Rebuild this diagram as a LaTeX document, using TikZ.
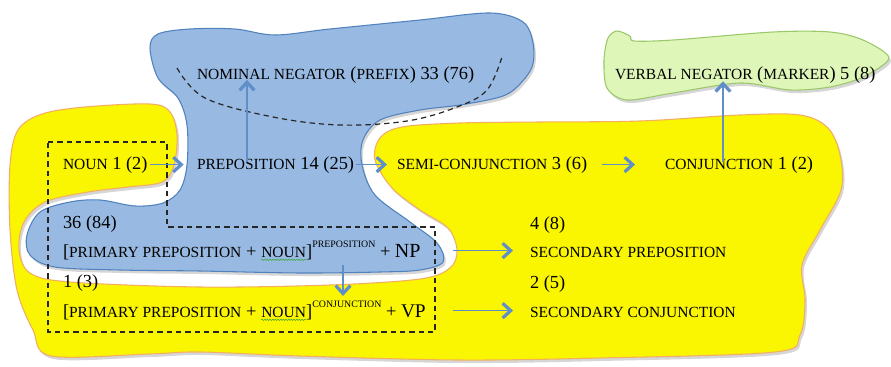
\documentclass[tikz,border=0pt]{standalone}
\usepackage{fontspec}
\setmainfont{Liberation Serif}
\usetikzlibrary{arrows.meta,decorations.pathmorphing,calc}
\definecolor{bluefill}{RGB}{152,186,226}
\definecolor{bluedraw}{RGB}{80,130,190}
\definecolor{yelfill}{RGB}{250,245,0}
\definecolor{yeldraw}{RGB}{242,175,100}
\definecolor{grnfill}{RGB}{222,246,184}
\definecolor{grndraw}{RGB}{155,200,105}
\definecolor{arrblue}{RGB}{95,142,200}
\definecolor{wavegreen}{RGB}{60,170,60}
\newcommand\sm[1]{{\fontsize{11.6}{12}\selectfont #1}}
\newcommand\supr[1]{\raisebox{0.5em}{\fontsize{7.4}{8}\selectfont #1}}
\newcommand\wv[1]{\tikz[baseline=(w.base)]{\node[inner sep=0pt,outer sep=0pt,anchor=base](w){#1};\draw[wavegreen,line width=0.4pt,decorate,decoration={snake,amplitude=0.5pt,segment length=2pt}]([yshift=-2pt]w.south west)--([yshift=-2pt]w.south east);}}
\tikzset{
  blueshape/.style={fill=bluefill,draw=bluedraw,line width=0.8pt},
  yelshape/.style={fill=yelfill,draw=yeldraw,line width=0.8pt},
  grnshape/.style={fill=grnfill,draw=grndraw,line width=0.8pt},
  shade/.style={fill=black,opacity=0.16},
  txt/.style={inner sep=0pt,outer sep=0pt,anchor=base west,font=\fontsize{13.8}{15}\selectfont},
  arr/.style={draw=arrblue,line width=1.2pt,-{Straight Barb[length=6pt,width=11pt,line width=2.4pt]}},
  dsh/.style={draw=black!85,line width=0.9pt,dash pattern=on 4pt off 3pt},
}
\def\yelpath{plot[smooth cycle,tension=0.55] coordinates {(10,165) (18,130) (42,114) (85,107) (150,104) (170,112) (177,135) (174,165) (162,182) (128,187) (88,192) (45,202) (24,222) (19,250) (30,273) (70,282) (200,287) (330,285) (420,279) (450,268) (457,250) (448,228) (420,210) (392,188) (375,160) (380,138) (402,127) (460,123) (540,122) (640,121) (740,115) (800,115) (828,128) (840,155) (841,190) (820,230) (802,265) (805,300) (800,335) (775,352) (600,358) (457,360) (300,356) (200,352) (149,354) (51,356) (33,330) (17,290) (10,230)}}
\def\bluepath{plot[smooth cycle,tension=0.55] coordinates {(150,48) (158,34) (190,29) (235,29) (275,35) (330,29) (420,20) (490,13) (523,22) (533,43) (532,67) (517,87) (500,97) (460,105) (420,110) (380,120) (363,140) (362,165) (375,195) (410,222) (437,243) (443,262) (420,270) (380,272) (300,273) (200,271) (120,270) (55,267) (30,255) (27,235) (40,212) (70,202) (100,200) (135,206) (163,203) (180,190) (187,165) (187,125) (178,98) (158,78)}}
\def\grnpath{plot[smooth cycle,tension=0.5] coordinates {(604,60) (608,38) (617,31) (630,36) (634,41) (673,40) (773,32) (830,32) (863,40) (889,58) (863,77) (830,87) (790,90) (740,83) (673,93) (627,100) (607,88)}}
\begin{document}
\begin{tikzpicture}[x=0.75pt,y=-0.75pt]
\fill[white] (0,0) rectangle (891,367);
\useasboundingbox (0,0) rectangle (891,367);
% shadows
\path[shade,shift={(2,3)}] \yelpath;
\path[shade,shift={(2,3)}] \bluepath;
\path[shade,shift={(2,3)}] \grnpath;
% shapes
\path[yelshape] \yelpath;
\path[blueshape] \bluepath;
\path[grnshape] \grnpath;
% dashed outlines
\draw[dsh] plot[smooth,tension=0.6] coordinates {(177,68) (205,98) (273,117) (340,125) (407,121) (457,107) (487,90) (502,57)};
\draw[dsh] (48,142) -- (167,142) -- (167,227) -- (435,227) -- (435,332) -- (48,332) -- cycle;
% texts
\node[txt] (nominal) at (197,80) {\sm{NOMINAL NEGATOR} (\sm{PREFIX}) 33 (76)};
\node[txt] (verbal) at (615,80) {\sm{VERBAL NEGATOR} (\sm{MARKER}) 5 (8)};
\node[txt] (noun) at (63,169) {\sm{NOUN} 1 (2)};
\node[txt] (prep) at (197,169) {\sm{PREPOSITION} 14 (25)};
\node[txt] (semi) at (397,169) {\sm{SEMI-CONJUNCTION} 3 (6)};
\node[txt] (conj) at (665,169) {\sm{CONJUNCTION} 1 (2)};
\node[txt] (c36) at (63,228) {36 (84)};
\node[txt] (np) at (63,257) {[\sm{PRIMARY PREPOSITION} + \wv{\sm{NOUN}}]\supr{PREPOSITION} + {\fontsize{15}{16}\selectfont NP}};
\node[txt] (c13) at (63,287) {1 (3)};
\node[txt] (vp) at (63,317) {[\sm{PRIMARY PREPOSITION} + \wv{\sm{NOUN}}]\supr{CONJUNCTION} + {\fontsize{14.5}{16}\selectfont VP}};
\node[txt] (c48) at (530,229) {4 (8)};
\node[txt] (secprep) at (530,257) {\sm{SECONDARY PREPOSITION}};
\node[txt] (c25) at (530,288) {2 (5)};
\node[txt] (secconj) at (530,317) {\sm{SECONDARY CONJUNCTION}};
% arrows
\draw[arr] ([xshift=2pt]noun.east) -- ([xshift=-10pt]prep.west);
\draw[arr] ([xshift=1.5pt]prep.east) -- ([xshift=-7.5pt]semi.west);
\draw[arr] ([xshift=11pt]semi.east) -- ([xshift=-22.5pt]conj.west);
\coordinate (pu) at ([xshift=37.5pt,yshift=-4pt]prep.north west);
\draw[arr] (pu) -- ([yshift=3pt]pu |- nominal.south);
\coordinate (cu) at ([xshift=43.5pt,yshift=-4pt]conj.north west);
\draw[arr] (cu) -- ([yshift=2pt]cu |- verbal.south);
\draw[arr] ([xshift=-57.75pt,yshift=1pt]secprep.west) -- ([xshift=-12.75pt,yshift=1pt]secprep.west);
\draw[arr] ([xshift=-57.75pt,yshift=1pt]secconj.west) -- ([xshift=-12.75pt,yshift=1pt]secconj.west);
\coordinate (dd) at ([xshift=210pt,yshift=-3pt]np.south west);
\draw[arr] (dd) -- ([yshift=4pt]dd |- vp.north);
\end{tikzpicture}
\end{document}
